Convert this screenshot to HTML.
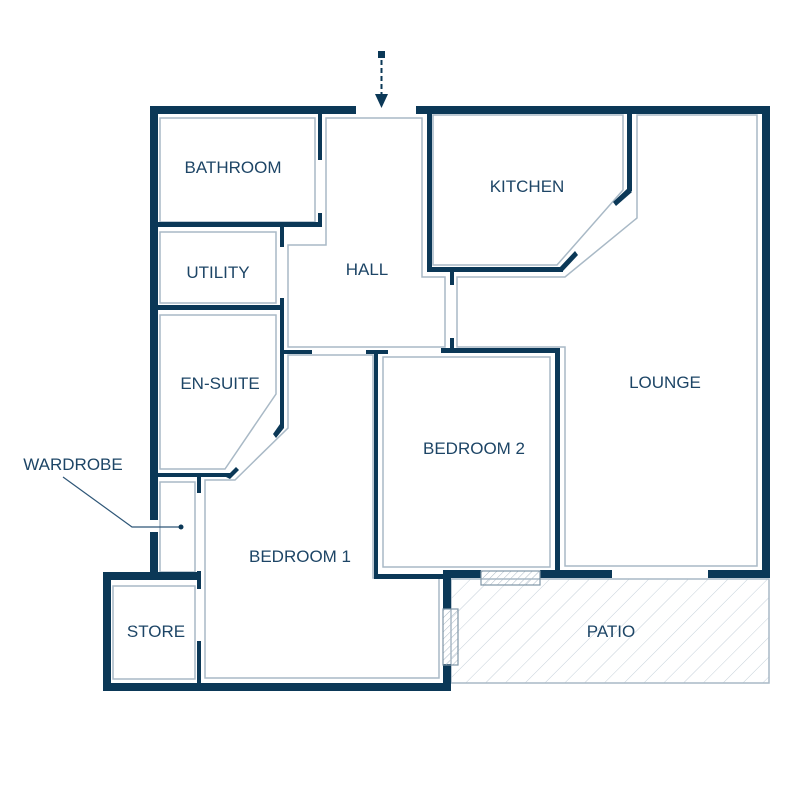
<!DOCTYPE html>
<html><head><meta charset="utf-8"><style>
html,body{margin:0;padding:0;background:#fff;}
svg{display:block;}
text{font-family:"Liberation Sans",sans-serif;fill:#1d4566;font-size:17px;}
</style></head><body>
<svg width="799" height="798" viewBox="0 0 799 798" xmlns="http://www.w3.org/2000/svg">
<defs>
<pattern id="h" patternUnits="userSpaceOnUse" width="14" height="14" patternTransform="rotate(45)">
<line x1="0" y1="0" x2="0" y2="14" stroke="#c5d0d9" stroke-width="1"/>
</pattern>
<pattern id="h2" patternUnits="userSpaceOnUse" width="5" height="5" patternTransform="rotate(45)">
<line x1="0" y1="0" x2="0" y2="5" stroke="#aab8c4" stroke-width="1"/>
</pattern>
</defs>
<!-- patio -->
<rect x="451" y="579" width="318" height="104" fill="url(#h)" stroke="#a9b9c6" stroke-width="1.5"/>
<g fill="none" stroke="#a9b9c6" stroke-width="1.5">
<!-- bathroom -->
<rect x="160" y="118" width="155" height="104"/>
<!-- utility -->
<rect x="160" y="232" width="116" height="71"/>
<!-- ensuite -->
<path d="M160 315 H276 V394 L225 469 H160 Z"/>
<!-- wardrobe -->
<rect x="160" y="482" width="35" height="90"/>
<!-- store -->
<rect x="113" y="586" width="82" height="93"/>
<!-- hall -->
<path d="M326 118 H422 V277 H445 V347 H288 V245 H326 Z"/>
<!-- bedroom 1 -->
<path d="M205 480 V678 H439 V578 H373 V355 H288 V428 L235 480 Z"/>
<!-- bedroom 2 -->
<rect x="383" y="357" width="167" height="210"/>
<!-- kitchen -->
<path d="M433 115 H623 V190 L557 265 H433 Z"/>
<!-- lounge -->
<path d="M637 115 H757 V566 H565 V347 H457 V277 H565 L637 218 Z"/>
</g>
<g fill="#0b3857">
<!-- outer top -->
<rect x="150" y="106" width="206" height="8"/>
<rect x="416" y="106" width="354" height="8"/>
<!-- left outer -->
<rect x="150" y="106" width="8" height="414"/>
<rect x="150" y="532" width="8" height="47"/>
<!-- right outer -->
<rect x="762" y="106" width="8" height="472"/>
<rect x="708" y="570" width="62" height="8"/>
<rect x="540" y="570" width="72" height="8"/>
<rect x="443" y="570" width="38" height="8"/>
<!-- store outer -->
<rect x="103" y="572" width="97" height="8"/>
<rect x="103" y="572" width="8" height="119"/>
<rect x="103" y="683" width="348" height="8"/>
<rect x="443" y="570" width="8" height="39"/>
<rect x="443" y="664" width="8" height="27"/>
<!-- bathroom walls -->
<rect x="158" y="222" width="164" height="5"/>
<rect x="318" y="113" width="4" height="47"/>
<rect x="318" y="213" width="4" height="14"/>
<rect x="280" y="227" width="4" height="20"/>
<!-- utility walls -->
<rect x="158" y="305" width="126" height="5"/>
<rect x="280" y="298" width="4" height="130"/>
<rect x="280" y="350" width="32" height="4"/>
<!-- ensuite -->
<path d="M280 424 L284 428 L276 438 L273 434 Z"/>
<rect x="158" y="473" width="72" height="4"/>
<path d="M226 477 L236 467 L239 470 L230 479 Z"/>
<rect x="197" y="477" width="4" height="16"/>
<rect x="197" y="571" width="4" height="18"/>
<rect x="197" y="641" width="4" height="46"/>
<!-- bedroom2 walls -->
<rect x="366" y="350" width="22" height="4"/>
<rect x="374" y="350" width="4" height="228"/>
<rect x="374" y="574" width="70" height="5"/>
<rect x="555" y="348" width="5" height="230"/>
<rect x="441" y="348" width="119" height="5"/>
<rect x="450" y="338" width="4" height="14"/>
<!-- kitchen walls -->
<rect x="427" y="113" width="5" height="159"/>
<rect x="427" y="267" width="136" height="5"/>
<rect x="450" y="267" width="4" height="18"/>
<rect x="627" y="113" width="5" height="78"/>
<path d="M628 188 L632 192 L616 206 L613 202 Z"/>
<path d="M575 251 L578 255 L563 271 L560 267 Z"/>
</g>
<!-- windows -->
<rect x="481" y="571" width="59" height="14" fill="url(#h2)" stroke="#7f95a6" stroke-width="1.2"/>
<rect x="443" y="609" width="15" height="56" fill="url(#h2)" stroke="#7f95a6" stroke-width="1.2"/>
<!-- entry arrow -->
<rect x="378" y="51" width="7" height="7" fill="#0b3857"/>
<line x1="381.5" y1="60" x2="381.5" y2="96" stroke="#0b3857" stroke-width="2" stroke-dasharray="5,3"/>
<path d="M375 94 L388 94 L381.5 108 Z" fill="#0b3857"/>
<!-- wardrobe leader -->
<polyline points="63,477 132,527 181,527" fill="none" stroke="#2e5677" stroke-width="1.2"/>
<circle cx="181" cy="527" r="2.5" fill="#0b3857"/>
<!-- labels -->
<text x="233" y="173" text-anchor="middle">BATHROOM</text>
<text x="218" y="278" text-anchor="middle">UTILITY</text>
<text x="367" y="275" text-anchor="middle">HALL</text>
<text x="527" y="192" text-anchor="middle">KITCHEN</text>
<text x="665" y="388" text-anchor="middle">LOUNGE</text>
<text x="220" y="389" text-anchor="middle">EN-SUITE</text>
<text x="474" y="454" text-anchor="middle">BEDROOM 2</text>
<text x="73" y="470" text-anchor="middle">WARDROBE</text>
<text x="300" y="562" text-anchor="middle">BEDROOM 1</text>
<text x="156" y="637" text-anchor="middle">STORE</text>
<text x="611" y="637" text-anchor="middle">PATIO</text>
</svg>
</body></html>
